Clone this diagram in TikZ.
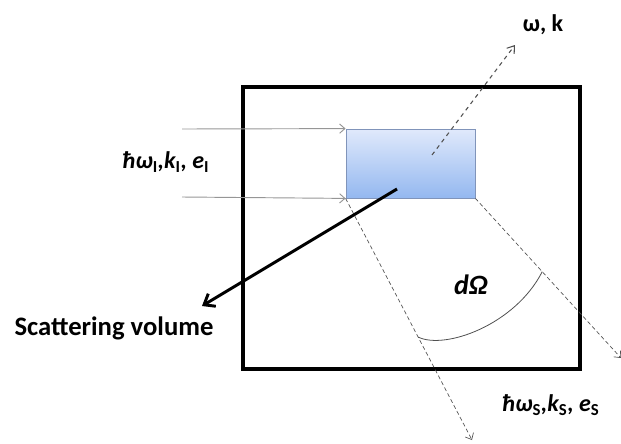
\documentclass[tikz,border=0pt]{standalone}
\usepackage{fontspec}
\setmainfont{Carlito}
\usetikzlibrary{positioning,arrows.meta,calc}
\definecolor{volTop}{RGB}{224,233,251}
\definecolor{volBot}{RGB}{148,184,240}
\definecolor{volLine}{RGB}{128,148,186}
\definecolor{rayGray}{RGB}{150,150,150}
\definecolor{rayDark}{RGB}{80,80,80}
\tikzset{
  frame/.style={rectangle, draw=black, line width=2.4pt, minimum width=252.75pt,
                minimum height=211.5pt, inner sep=0pt},
  vol/.style={rectangle, draw=volLine, line width=0.6pt, top color=volTop, bottom color=volBot,
              minimum width=96.75pt, minimum height=51.75pt, inner sep=0pt},
  inray/.style={-{Straight Barb[length=4pt,width=7pt]}, draw=rayGray, line width=0.7pt},
  outray/.style={-{Straight Barb[length=4pt,width=7pt]}, draw=rayDark, densely dashed, line width=0.5pt},
  wkray/.style={-{Straight Barb[length=5pt,width=7pt]}, draw=rayDark, dashed, line width=0.8pt},
  pointer/.style={-{Straight Barb[length=7pt,width=11pt]}, draw=black, line width=2.2pt},
  arcline/.style={draw=rayDark, line width=0.6pt},
  lbl/.style={font=\fontsize{18}{21}\selectfont\bfseries\itshape, inner sep=1pt},
}

\begin{document}
\begin{tikzpicture}[x=0.75pt, y=-0.75pt]
  \useasboundingbox (0,0) rectangle (621,443);
  \node[frame] (box) at (411.5,228) {};
  \node[vol] (vol) at (410.5,163.5) {};
  \coordinate (inA) at (182,129);
  \coordinate (inB) at (182,197);
  \coordinate (wk) at (515,45);
  \coordinate (outS) at (472,440);
  \coordinate (outR) at (621,358);
  \coordinate (sv) at (202,306);
  \draw[inray] (inA) -- (vol.north west);
  \draw[inray] (inB) -- (vol.south west);
  \draw[wkray] ($(vol.center)+(21.5,-8.5)$) -- (wk);
  \draw[outray] (vol.south west) -- (outS);
  \draw[outray] (vol.south east) -- (outR);
  \draw[pointer] ($(vol.center)+(-13.5,25.5)$) -- (sv);
  \draw[arcline] ($(vol.south west)!0.574!(outS)$) .. controls (445,350) and (515,325) .. ($(vol.south east)!0.459!(outR)$);
  \node[lbl] (inlbl) at (166,162) {ħω\textsubscript{\upshape I},k\textsubscript{\upshape I}, e\textsubscript{\upshape I}};
  \node[lbl] (outlbl) at (551,405) {ħω\textsubscript{\upshape S},k\textsubscript{\upshape S}, e\textsubscript{\upshape S}};
  \node[font=\fontsize{18}{21}\selectfont\bfseries] (wklbl) at (543,25) {ω, k};
  \node[font=\fontsize{21}{24}\selectfont\bfseries\itshape] (dom) at (471,285) {dΩ};
  \node[font=\fontsize{20}{23}\selectfont\bfseries] (svlbl) at (114,328) {Scattering volume};
\end{tikzpicture}
\end{document}
